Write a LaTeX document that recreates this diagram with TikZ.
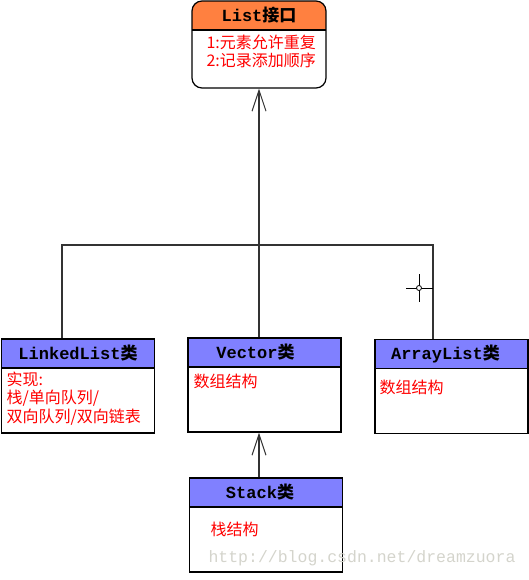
\documentclass[tikz,border=0pt]{standalone}
\usepackage{fontspec}
\newfontfamily\cjk{Noto Sans CJK SC}
\newfontfamily\lat{Liberation Mono}
\usetikzlibrary{positioning}
\usetikzlibrary{arrows.meta}
\definecolor{headorange}{RGB}{255,128,64}
\definecolor{headblue}{RGB}{128,128,255}
\definecolor{marktext}{RGB}{212,212,204}
\newcommand\hd[2]{{\lat #1}{\cjk #2}}
\tikzset{classbox/.style = {draw, line width=1.2pt, minimum width=153pt,
                            minimum height=94pt, inner sep=0,
    path picture={\fill[#1, sharp corners] (path picture bounding box.north west)
                     rectangle ([yshift=-29pt]path picture bounding box.north east);
                  \draw[line width=1.2pt, sharp corners]
                     ([yshift=-29pt]path picture bounding box.north west) --
                     ([yshift=-29pt]path picture bounding box.north east);}}}
\tikzset{title/.style = {inner sep=0, font=\fontsize{17}{19}\selectfont\bfseries}}
\tikzset{note/.style = {inner sep=0, anchor=north west, align=left, text=red,
                        font=\cjk\fontsize{16}{18.5}\selectfont}}
\tikzset{link/.style = {line width=1.2pt, draw=black!80}}
\tikzset{inherit/.style = {link, -{Straight Barb[length=21pt,width=14pt,line width=1pt]}}}
\begin{document}
\begin{tikzpicture}[x=1pt, y=-1pt]
  \useasboundingbox (0,0) rectangle (529,580);

  \node[classbox=headorange, rounded corners=10pt, minimum width=134pt,
        minimum height=87pt] (list) at (259,44.5) {};
  \node[classbox=headblue] (linked) at (78,386) {};
  \node[classbox=headblue] (vector) at (264.5,385) {};
  \node[classbox=headblue] (arraylist) at (451.5,386.5) {};
  \node[classbox=headblue] (stack) at (266,525) {};

  \node[title] (listtitle) at ([yshift=-15pt]list.north) {\hd{List}{接口}};
  \node[title] (linkedtitle) at ([yshift=-15pt]linked.north) {\hd{LinkedList}{类}};
  \node[title] (vectortitle) at ([shift={(-9pt,-15pt)}]vector.north) {\hd{Vector}{类}};
  \node[title] (arraytitle) at ([shift={(-6pt,-15pt)}]arraylist.north) {\hd{ArrayList}{类}};
  \node[title] (stacktitle) at ([shift={(-6pt,-15pt)}]stack.north) {\hd{Stack}{类}};

  \node[note] (listnote) at ([shift={(15pt,-34pt)}]list.north west)
    {1:元素允许重复\\2:记录添加顺序};
  \node[note] (linkednote) at ([shift={(5.5pt,-33pt)}]linked.north west)
    {实现:\\栈/单向队列/\\双向队列/双向链表};
  \node[note] (vectornote) at ([shift={(6pt,-36pt)}]vector.north west) {数组结构};
  \node[note] (arraynote) at ([shift={(5pt,-41pt)}]arraylist.north west) {数组结构};
  \node[note] (stacknote) at ([shift={(21.5pt,-44pt)}]stack.north west) {栈结构};

  \draw[inherit] (vector.north -| list.south) -- (list.south);
  \draw[inherit] (stack.north -| list.south) -- (vector.south -| list.south);
  \coordinate (barleft) at (62,245);
  \coordinate (barright) at (433,245);
  \draw[link] (linked.north -| barleft) -- (barleft) -- (barright)
    -- (arraylist.north -| barright);

  % cursor
  \draw[line width=0.8pt] (406,288) -- (433,288) (419,274) -- (419,302);
  \draw[line width=0.8pt, fill=white] (419,288) circle (2.5pt);

  \node[font=\lat\fontsize{16.5}{18}\selectfont, text=marktext] (mark)
    at (362,558) {http://blog.csdn.net/dreamzuora};
\end{tikzpicture}
\end{document}
